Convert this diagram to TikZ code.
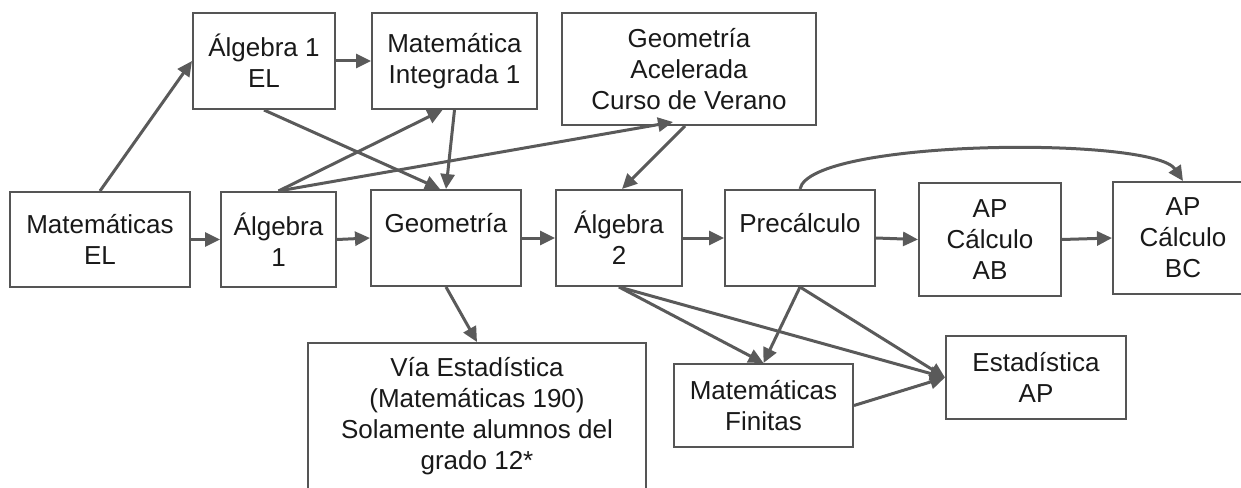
\documentclass[tikz,border=0pt]{standalone}
\usepackage{fontspec}
\setmainfont{Liberation Sans}
\usetikzlibrary{arrows.meta,positioning}
\definecolor{boxgray}{HTML}{555555}
\definecolor{linegray}{HTML}{5A5A5A}

\begin{document}
\begin{tikzpicture}[
    x=1pt, y=-1pt,
    course/.style={rectangle, draw=boxgray, line width=2pt, align=center, inner sep=2pt,
        font=\fontsize{26}{31}\selectfont, text=black!90},
    arrow/.style={-{Triangle[length=15pt,width=14pt]}, draw=linegray, line width=3pt}
]
\useasboundingbox (0,0) rectangle (1241,487);
\clip (0,0) rectangle (1241,487);

% Main row
\node[course, minimum width=180pt, minimum height=95pt] (matEL) at (100,239.5) {Matemáticas\\EL};
\node[course, minimum width=115pt, minimum height=95pt] (alg1) at (278.5,239.5) {Álgebra\\1};
\node[course, minimum width=150pt, minimum height=96pt] (geom) at (446,238) {Geometría\\~};
\node[course, minimum width=126pt, minimum height=96pt] (alg2) at (619,238) {Álgebra\\2};
\node[course, minimum width=150pt, minimum height=96pt] (precalc) at (800,238) {Precálculo\\~};
\node[course, minimum width=142pt, minimum height=113pt] (apAB) at (990,239.5) {AP\\Cálculo\\AB};
\node[course, minimum width=140pt, minimum height=112pt] (apBC) at (1183,238) {AP\\Cálculo\\BC};

% Top row
\node[course, minimum width=142pt, minimum height=96pt] (alg1EL) at (264,61) {Álgebra 1\\EL};
\node[course, minimum width=165pt, minimum height=96pt] (matInt) at (454.5,61) {Matemática\\Integrada 1};
\node[course, minimum width=254pt, minimum height=112pt] (geomAcel) at (689,69) {Geometría\\Acelerada\\Curso de Verano};

% Bottom row
\node[course, minimum width=338pt, minimum height=146pt] (viaEst) at (477,416) {Vía Estadística\\(Matemáticas 190)\\Solamente alumnos del\\grado 12*};
\node[course, minimum width=179pt, minimum height=83pt] (matFin) at (763.5,405.5) {Matemáticas\\Finitas};
\node[course, minimum width=180pt, minimum height=83pt] (estAP) at (1036,377.5) {Estadística\\AP};

% Arrows
\draw[arrow] (matEL.north) -- (alg1EL.west);
\draw[arrow] (alg1EL.east) -- (matInt.west);
\draw[arrow] (alg1EL.south) -- ([xshift=-6pt]geom.north);
\draw[arrow] (matEL.east) -- (alg1.west);
\draw[arrow] (alg1.east) -- (geom.west);
\draw[arrow] (alg1.north) -- ([xshift=-12pt]matInt.south);
\draw[arrow] (alg1.north) -- ([xshift=-16pt, yshift=4pt]geomAcel.south);
\draw[arrow] (matInt.south) -- (geom.north);
\draw[arrow] ([xshift=-4pt]geomAcel.south) -- ([xshift=3pt]alg2.north);
\draw[arrow] (geom.east) -- (alg2.west);
\draw[arrow] (alg2.east) -- (precalc.west);
\draw[arrow] (precalc.east) -- (apAB.west);
\draw[arrow] (apAB.east) -- (apBC.west);
\draw[arrow] (precalc.north) .. controls +(10,-50) and +(-30,-45) .. (apBC.north);
\draw[arrow] (geom.south) -- (viaEst.north);
\draw[arrow] (alg2.south) -- (matFin.north);
\draw[arrow] (alg2.south) -- (estAP.west);
\draw[arrow] (precalc.south) -- (matFin.north);
\draw[arrow] (precalc.south) -- (estAP.west);
\draw[arrow] (matFin.east) -- (estAP.west);
\end{tikzpicture}
\end{document}
